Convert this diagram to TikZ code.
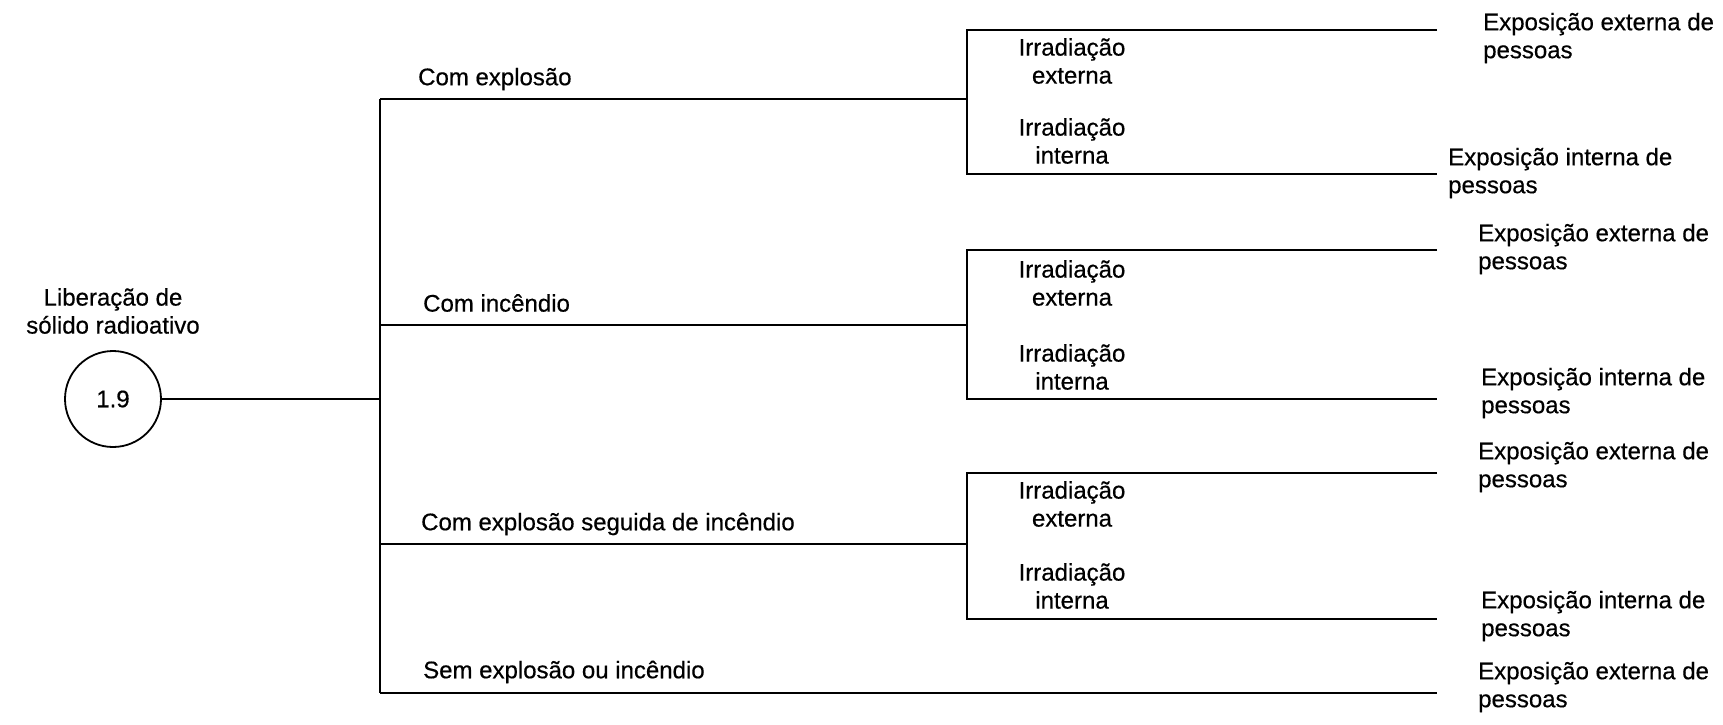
\documentclass[tikz,border=0pt]{standalone}
\usepackage{fontspec}
\setmainfont{Liberation Sans}[FakeBold=0.5]
\begin{document}
\begin{tikzpicture}[x=1pt,y=-1pt,
  ln/.style={line width=1.8pt,black},
  lbl/.style={inner sep=0pt,font=\fontsize{24}{28}\selectfont,anchor=west},
  irr/.style={inner sep=0pt,font=\fontsize{24}{28}\selectfont,align=center},
  ex/.style={inner sep=0pt,font=\fontsize{24}{28}\selectfont,align=left,anchor=west},
  evt/.style={circle,draw,line width=1.8pt,minimum size=96pt,inner sep=0pt,font=\fontsize{24}{28}\selectfont}]
\useasboundingbox (0,0) rectangle (1723,724);
% initiating event
\node[evt] (c) at (113,399) {1.9};
\node[irr] (ttl) at (113,311) {Liberação de\\sólido radioativo};
% trunk coordinates
\coordinate (t0) at (380,399);
\coordinate (tA) at (380,99);
\coordinate (tB) at (380,325);
\coordinate (tC) at (380,544);
\coordinate (tD) at (380,693);
\draw[ln] (c.east) -- (t0);
\draw[ln] (tA) -- (tD);
% branch ends
\coordinate (bA) at (967,99);
\coordinate (bB) at (967,325);
\coordinate (bC) at (967,544);
\coordinate (bD) at (1437,693);
\draw[ln] (tA) -- (bA);
\draw[ln] (tB) -- (bB);
\draw[ln] (tC) -- (bC);
\draw[ln] (tD) -- (bD);
\node[lbl] (lA) at (418,79) {Com explosão};
\node[lbl] (lB) at (423,303) {Com incêndio};
\node[lbl] (lC) at (421,524) {Com explosão seguida de incêndio};
\node[lbl] (lD) at (423,672) {Sem explosão ou incêndio};
% sub-branches
\coordinate (aT) at (967,30);  \coordinate (aB) at (967,174);
\coordinate (aTe) at (1437,30); \coordinate (aBe) at (1437,174);
\coordinate (bT) at (967,250); \coordinate (bBt) at (967,399);
\coordinate (bTe) at (1437,250); \coordinate (bBe) at (1437,399);
\coordinate (cT) at (967,473); \coordinate (cB) at (967,619);
\coordinate (cTe) at (1437,473); \coordinate (cBe) at (1437,619);
\draw[ln] (aTe) -- (aT) -- (aB) -- (aBe);
\draw[ln] (bTe) -- (bT) -- (bBt) -- (bBe);
\draw[ln] (cTe) -- (cT) -- (cB) -- (cBe);
% irradiation labels
\node[irr] (ia1) at (1072,61) {Irradiação\\externa};
\node[irr] (ia2) at (1072,141) {Irradiação\\interna};
\node[irr] (ib1) at (1072,283) {Irradiação\\externa};
\node[irr] (ib2) at (1072,367) {Irradiação\\interna};
\node[irr] (ic1) at (1072,504) {Irradiação\\externa};
\node[irr] (ic2) at (1072,586) {Irradiação\\interna};
% exposure labels
\node[ex] (ea1) at (1483,38) {Exposição externa de\\pessoas};
\node[ex] (ea2) at (1448,173) {Exposição interna de\\pessoas};
\node[ex] (eb1) at (1478,249) {Exposição externa de\\pessoas};
\node[ex] (eb2) at (1481,393) {Exposição interna de\\pessoas};
\node[ex] (ec1) at (1478,467) {Exposição externa de\\pessoas};
\node[ex] (ec2) at (1481,616) {Exposição interna de\\pessoas};
\node[ex] (ed1) at (1478,687) {Exposição externa de\\pessoas};
\end{tikzpicture}
\end{document}
